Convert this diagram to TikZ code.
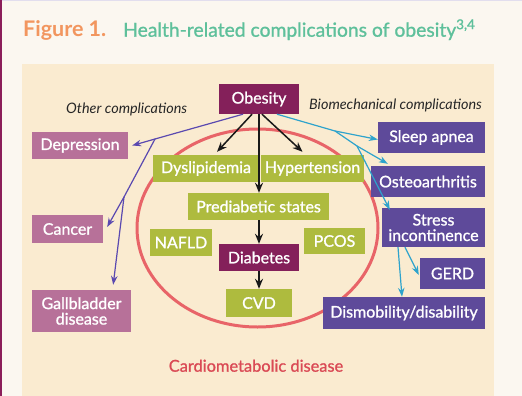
\documentclass[tikz,border=0pt]{standalone}
\usepackage{fontspec}
\setmainfont{Lato}
\newfontfamily\medfont{Lato}[FakeBold=1.1]
\usetikzlibrary{arrows.meta,calc}
\definecolor{outerbg}{HTML}{FBF7F0}
\definecolor{panelbg}{HTML}{FAEBD0}
\definecolor{edgec}{HTML}{8B1E5A}
\definecolor{topc}{HTML}{E2DEEE}
\definecolor{obec}{HTML}{84205A}
\definecolor{grnc}{HTML}{AEBB3E}
\definecolor{pnkc}{HTML}{B77199}
\definecolor{purc}{HTML}{5E4A9A}
\definecolor{redc}{HTML}{E86468}
\definecolor{parr}{HTML}{5A49B0}
\definecolor{barr}{HTML}{2EA3CC}
\definecolor{orgc}{HTML}{F2965F}
\definecolor{tealc}{HTML}{5EC09B}
\definecolor{cmdc}{HTML}{DA4A55}
\tikzset{
  boxbase/.style={rectangle, inner sep=0pt, text=white, align=center,
    font=\medfont\fontsize{16}{15.5}\selectfont},
  darkbox/.style={boxbase, fill=obec},
  greenbox/.style={boxbase, fill=grnc},
  pinkbox/.style={boxbase, fill=pnkc},
  purpbox/.style={boxbase, fill=purc},
  blkarrow/.style={draw=black!90, line width=1.5pt, -{Stealth[length=10pt,width=8pt]}},
  purarrow/.style={draw=parr, line width=1.2pt, -{Stealth[length=9pt,width=6.5pt]}},
  purline/.style={draw=parr, line width=1.2pt},
  bluarrow/.style={draw=barr, line width=1.2pt, -{Stealth[length=9pt,width=6.5pt]}},
  bluline/.style={draw=barr, line width=1.2pt},
  sidelabel/.style={inner sep=0pt, font=\itshape\fontsize{14.4}{16}\selectfont, text=black!85}
}
\begin{document}
\begin{tikzpicture}[x=1pt,y=-1pt]
\useasboundingbox (0,0) rectangle (522,396);
\fill[outerbg] (0,0) rectangle (522,396);
\fill[panelbg] (22,64) rectangle (494,396);
\fill[edgec] (0,0) rectangle (2,396);
\fill[topc] (2,0) rectangle (522,1.2);

% title
\node[anchor=base west, inner sep=0pt, text=orgc, font=\bfseries\fontsize{21.5}{22}\selectfont] (fig) at (23,36.7) {Figure 1.};
\node[anchor=base west, inner sep=0pt, text=tealc, font=\medfont\fontsize{19.3}{22}\selectfont] (ttl) at (123,36.7) {Health-related complications of obesity\textsuperscript{3,4}};

% ellipse
\draw[redc, line width=3pt] (257.5,228) ellipse [x radius=120.5, y radius=99];

% side labels
\node[sidelabel, anchor=base west] (oth) at (66,113.5) {Other complications};
\node[sidelabel, anchor=base west] (bio) at (309,109.3) {Biomechanical complications};
\node[anchor=base, inner sep=0pt, text=cmdc, font=\medfont\fontsize{16.4}{18}\selectfont] (cmd) at (256,371.7) {Cardiometabolic disease};

% boxes
\node[darkbox, minimum width=80pt, minimum height=30pt] (obe) at (259,99) {Obesity};
\node[greenbox, minimum width=106pt, minimum height=27pt] (dys) at (206,168.5) {Dyslipidemia};
\node[greenbox, minimum width=103pt, minimum height=27pt] (hyp) at (312.5,168.5) {Hypertension};
\node[greenbox, minimum width=141pt, minimum height=27pt] (pre) at (258.5,206.5) {Prediabetic states};
\node[greenbox, minimum width=62pt, minimum height=27pt] (naf) at (181,242.5) {NAFLD};
\node[greenbox, minimum width=61pt, minimum height=26pt] (pco) at (334.5,241) {PCOS};
\node[darkbox, minimum width=80pt, minimum height=27pt] (dia) at (259,257.5) {Diabetes};
\node[greenbox, minimum width=66pt, minimum height=28pt] (cvd) at (259,303) {CVD};

\node[pinkbox, minimum width=96pt, minimum height=27pt] (dep) at (80,145.5) {Depression};
\node[pinkbox, minimum width=71pt, minimum height=28pt] (can) at (67.5,229) {Cancer};
\node[pinkbox, minimum width=99pt, minimum height=42pt] (gal) at (81.5,311) {Gallbladder\\disease};

\node[purpbox, minimum width=107pt, minimum height=31pt] (sle) at (431.5,137.5) {Sleep apnea};
\node[purpbox, minimum width=114pt, minimum height=31pt] (ost) at (428,181.5) {Osteoarthritis};
\node[purpbox, minimum width=103pt, minimum height=39pt] (str) at (433.5,227.5) {Stress\\incontinence};
\node[purpbox, minimum width=65pt, minimum height=31pt] (ger) at (452.5,273.5) {GERD};
\node[purpbox, minimum width=162pt, minimum height=32pt] (dis) at (404,313) {Dismobility/disability};

% black arrows
\draw[blkarrow] ([xshift=-7pt]obe.south) -- ([xshift=11pt,yshift=3pt]dys.north);
\draw[blkarrow] ([xshift=3pt]obe.south) -- ([xshift=-10pt,yshift=3pt]hyp.north);
\draw[blkarrow] (obe.south) -- (obe.south |- pre.north);
\draw[blkarrow] (pre.south -| dia.north) -- (dia.north);
\draw[blkarrow] (dia.south) -- (cvd.north);

% purple (other complications)
\coordinate (p1) at (155,139);
\coordinate (p2) at (124,197);
\draw[purline] ([xshift=-16pt]obe.south) -- (p1);
\draw[purarrow] (p1) -- ([xshift=4pt]dep.east);
\draw[purline] (p1) -- (p2);
\draw[purarrow] (p2) -- ([xshift=4pt,yshift=2pt]can.east);
\draw[purarrow] (p2) -- ([xshift=-18pt,yshift=5pt]gal.north east);

% blue (biomechanical)
\coordinate (q1) at (335,131);
\coordinate (q2) at (357,146);
\draw[bluline] ([xshift=18pt]obe.south) -- (q1);
\draw[bluarrow] (q1) -- ([yshift=-2pt]sle.west);
\draw[bluline] (q1) -- (q2);
\draw[bluarrow] (q2) -- ([xshift=17pt,yshift=2pt]ost.north west);
\draw[bluarrow] (q2) -- ([xshift=8pt,yshift=-2pt]str.north west);
\draw[bluarrow] ([xshift=-35.5pt]str.south) -- ([xshift=-2pt]dis.north);
\draw[bluarrow] ([xshift=-28.5pt]str.south) -- ([xshift=-1pt,yshift=-1.5pt]ger.west);
\end{tikzpicture}
\end{document}
